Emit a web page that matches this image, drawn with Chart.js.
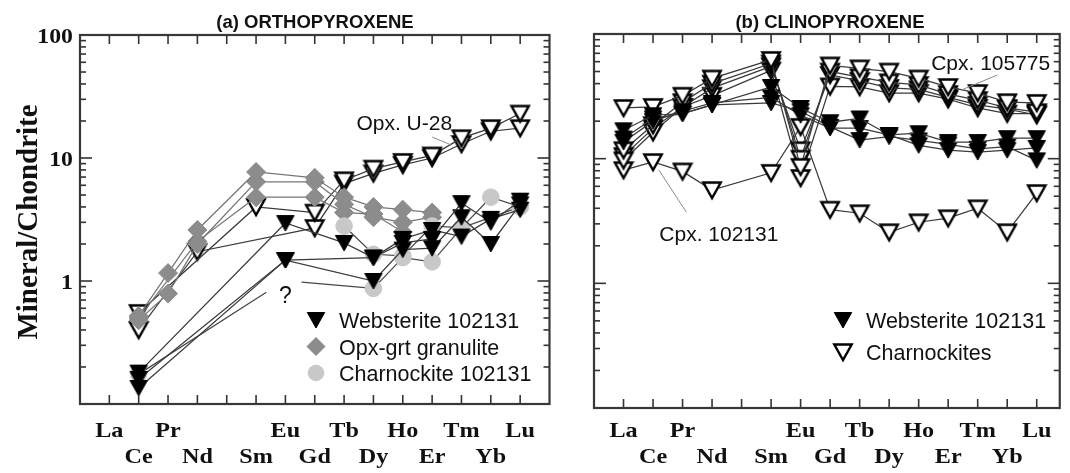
<!DOCTYPE html>
<html>
<head>
<meta charset="utf-8">
<script src="https://cdn.jsdelivr.net/npm/chart.js@4.4.1/dist/chart.umd.min.js"></script>
<style>
  html, body { margin: 0; padding: 0; background: #fff; }
  #wrap { position: relative; width: 1070px; height: 473px; }
  #cA { position: absolute; left: 0; top: 0; }
  #cB { position: absolute; left: 560px; top: 0; }
</style>
</head>
<body>
<div id="wrap">
  <canvas id="cA" width="560" height="473"></canvas>
  <canvas id="cB" width="510" height="473"></canvas>
</div>
<script>
// REE order (Pm has a tick but no label)
const elements = ['La','Ce','Pr','Nd','Pm','Sm','Eu','Gd','Tb','Dy','Ho','Er','Tm','Yb','Lu'];
const labelsTop = ['La','','Pr','','','','Eu','','Tb','','Ho','','Tm','','Lu'];
const labelsBottom = ['','Ce','','Nd','','Sm','','Gd','','Dy','','Er','','Yb',''];
const yTickValues = [100, 10, 1];
const yTickLabels = ['100', '10', '1'];

// (a) orthopyroxene            La    Ce    Pr    Nd    Pm    Sm    Eu    Gd    Tb    Dy    Ho    Er    Tm    Yb    Lu
const opxWeb1  = [null, 0.18, null, null, null, null, 2.96, null, 2.04, 1.55, 2.04, 2.2,  4.3,  3.0,  4.5];
const opxWeb2  = [null, 0.135,null, null, null, null, 1.48, null, null, 1.0,  1.8,  1.85, 3.3,  2.0,  4.2];
const opxWeb3  = [null, 0.16, null, null, null, null, 1.48, null, null, 1.55, 2.2,  2.6,  2.3,  3.2,  3.8];
const opxGrt1  = [null, 0.52, 1.16, 2.6,  null, 7.7,  null, 6.9,  4.8,  4.0,  3.8,  3.6,  null, null, null];
const opxGrt2  = [null, 0.48, 0.79, 2.0,  null, 6.4,  null, 6.4,  4.2,  3.3,  3.0,  3.3,  null, null, null];
const opxGrt3  = [null, 0.50, null, 2.1,  null, 4.8,  null, 4.8,  3.6,  3.5,  2.5,  null, null, null, null];
const opxChar1 = [null, 0.175,null, null, null, null, null, null, null, 0.87, 1.55, 1.43, 2.7,  4.8,  4.0];
const opxChar2 = [null, null, null, null, null, null, null, null, 2.8,  1.65, 1.6,  2.8,  2.7,  null, 4.0];
const opxU28a  = [null, 0.55, null, null, null, 4.0,  null, 3.6,  6.6,  8.2,  9.3,  10.5, 14.5, 17.5, 23];
const opxU28b  = [null, 0.40, null, 1.73, null, null, null, 2.7,  6.2,  7.5,  8.8,  10.0, 13,   16.5, 17.5];
// Eu of Charnockite 102131 unknown ("?"): broken connector
const opxQueryX = [1,     5.35, null, 6.55, 9];
const opxQueryY = [0.175, 0.81, null, 0.98, 0.87];

// (b) clinopyroxene            La    Ce    Pr    Nd    Pm    Sm    Eu    Gd    Tb    Dy    Ho    Er    Tm    Yb    Lu
const cpxWeb1  = [16.9, 22.3, 23,   27,   null, 37.6, 25.5, 19.6, 21,   15.5, 16,   13.6, 13.6, 14.6, 14.6];
const cpxWeb2  = [13.6, 20,   24,   28,   null, 31,   22.3, 17.6, 17.6, 15.5, 12.8, 11.7, 11.3, 11.7, 12.2];
const cpxWeb3  = [14.5, 21,   23,   27,   null, 28,   24,   18,   14.1, 15,   14,   13,   12,   12.5, 9.7];
const cpxChar1 = [25.5, 26,   32,   44,   null, 62,   8.6,  56,   53,   50,   44,   37.6, 33.6, 28.4, 28];
const cpxChar2 = [11.7, 18.6, 28.4, 40,   null, 58,   10,   50,   45,   41,   39,   33,   29.5, 25.5, 23.6];
const cpxChar3 = [9.7,  16.3, 26,   36.8, null, 55,   11.7, 47,   42,   37,   36,   31,   27,   25,   22.4];
const cpxChar4 = [10.5, 17.5, 26,   32,   null, 51,   7.0,  38,   37.6, 33.6, 33.6, 30,   25.5, 23,   23];
const cpx102131= [8.1,  9.4,  7.9,  5.6,  null, 7.7,  18,   3.9,  3.65, 2.57, 3.09, 3.33, 4.0,  2.57, 5.3];

// markers
function triMarker(fill, lw) {
  const c = document.createElement('canvas');
  c.width = 22; c.height = 22;
  const g = c.getContext('2d');
  g.beginPath(); g.moveTo(2.3, 3.5); g.lineTo(19.7, 3.5); g.lineTo(11, 19); g.closePath();
  g.fillStyle = fill; g.fill();
  g.lineWidth = lw; g.strokeStyle = '#000'; g.stroke();
  return c;
}
const triFilled = triMarker('#000', 1);
const triOpen = triMarker('#fff', 2.4);

const styleWeb  = { borderColor: '#3a3a3a', pointStyle: triFilled, pointRadius: 9 };
const styleOpen = { borderColor: '#3a3a3a', pointStyle: triOpen, pointRadius: 9 };
const styleGrt  = { borderColor: '#777', pointStyle: 'rectRot', pointRadius: 9.5, pointBackgroundColor: '#8c8c8c', pointBorderColor: '#8c8c8c', pointBorderWidth: 1 };
const styleChar = { borderColor: '#484848', pointStyle: 'circle', pointRadius: 8.3, pointBackgroundColor: '#c8c8c8', pointBorderColor: '#c8c8c8', pointBorderWidth: 1 };

function series(values, style, extra) {
  return Object.assign({
    data: values.map((v, i) => v == null ? null : { x: i, y: v }).filter(Boolean),
    borderWidth: 1.25, tension: 0, fill: false
  }, style, extra || {});
}

function line(ctx, x1, y1, x2, y2) {
  ctx.beginPath(); ctx.moveTo(x1, y1); ctx.lineTo(x2, y2); ctx.stroke();
}
function text(ctx, s, x, y, font, align, sx) {
  ctx.save();
  ctx.translate(x, y); ctx.scale(sx || 1, 1);
  ctx.font = font; ctx.textAlign = align; ctx.textBaseline = 'alphabetic';
  ctx.fillStyle = '#111';
  ctx.fillText(s, 0, 0);
  ctx.restore();
}

function drawFrame(chart, opt) {
  const { ctx, chartArea: a } = chart;
  const sx = chart.scales.x, sy = chart.scales.y;
  ctx.save();
  ctx.strokeStyle = '#333';
  ctx.lineWidth = 1.6;
  elements.forEach((el, i) => {
    const px = sx.getPixelForValue(i);
    line(ctx, px, a.top, px, a.top + 9);
    line(ctx, px, a.bottom, px, a.bottom - 9);
  });
  for (let d = -1; d <= 1; d++) {
    for (let k = 1; k <= 9; k++) {
      const v = k * Math.pow(10, d);
      if (v <= 0.1 || v >= 100) continue;
      const py = sy.getPixelForValue(v);
      const len = k === 1 ? 12 : 6;
      line(ctx, a.left, py, a.left + len, py);
      line(ctx, a.right, py, a.right - len, py);
    }
  }
  ctx.lineWidth = 2.2;
  ctx.strokeStyle = '#383838';
  ctx.strokeRect(a.left, a.top, a.right - a.left, a.bottom - a.top);
  // category labels on two rows
  const lab = 'bold 22px "Liberation Serif"';
  elements.forEach((el, i) => {
    const px = sx.getPixelForValue(i);
    if (labelsTop[i]) text(ctx, labelsTop[i], px, 437, lab, 'center', 1.1);
    if (labelsBottom[i]) text(ctx, labelsBottom[i], px, 463, lab, 'center', 1.1);
  });
  // title
  text(ctx, opt.title, opt.titleX, 28, 'bold 18.5px "Liberation Sans"', 'center', 1);
  // annotations with leader lines (data units)
  opt.notes.forEach(n => {
    ctx.strokeStyle = '#8a8a8a'; ctx.lineWidth = 1;
    if (n.from) line(ctx, sx.getPixelForValue(n.from[0]), sy.getPixelForValue(n.from[1]),
              sx.getPixelForValue(n.to[0]), sy.getPixelForValue(n.to[1]));
    text(ctx, n.label, sx.getPixelForValue(n.at[0]), sy.getPixelForValue(n.at[1]), (n.size || 21) + 'px "Liberation Sans"', 'center', 1);
  });
  // legend inside plot
  opt.legend.items.forEach((it, i) => {
    const lx = opt.legend.x, ly = opt.legend.y + i * opt.legend.dy;
    if (it.marker === 'diamond') {
      ctx.fillStyle = '#8c8c8c';
      ctx.beginPath(); ctx.moveTo(lx, ly - 9.5); ctx.lineTo(lx + 9.5, ly); ctx.lineTo(lx, ly + 9.5); ctx.lineTo(lx - 9.5, ly); ctx.closePath(); ctx.fill();
    } else if (it.marker === 'circle') {
      ctx.fillStyle = '#c8c8c8';
      ctx.beginPath(); ctx.arc(lx, ly, 8.3, 0, Math.PI * 2); ctx.fill();
    } else {
      ctx.drawImage(it.marker, lx - 11, ly - 11);
    }
    text(ctx, it.label, lx + 23, ly + 8, '21.5px "Liberation Sans"', 'left', 1);
  });
  ctx.restore();
}

function makeChart(id, datasets, xMax, padding, decor) {
  return new Chart(document.getElementById(id), {
    type: 'line',
    data: { datasets },
    options: {
      responsive: false, animation: false, devicePixelRatio: 1, events: [],
      layout: { padding },
      plugins: { legend: { display: false }, tooltip: { enabled: false }, title: { display: false } },
      scales: {
        x: { type: 'linear', min: -1, max: xMax, display: false },
        y: { type: 'logarithmic', min: 0.1, max: 100, display: false }
      }
    },
    plugins: [decor]
  });
}

// ---- panel (a)
const hideFirst = { segment: { borderColor: c => c.p0DataIndex === 0 ? 'rgba(0,0,0,0)' : '#484848' } };
const queryLine = {
  data: opxQueryX.map((x, i) => ({ x: x, y: opxQueryY[i] })),
  borderColor: '#484848', borderWidth: 1.25, pointRadius: 0, spanGaps: false, fill: false
};
makeChart('cA', [
  series(opxWeb1, styleWeb), series(opxWeb2, styleWeb), series(opxWeb3, styleWeb),
  series(opxChar1, styleChar, hideFirst), series(opxChar2, styleChar),
  series(opxGrt1, styleGrt), series(opxGrt2, styleGrt), series(opxGrt3, styleGrt),
  series(opxU28a, styleOpen), series(opxU28b, styleOpen),
  queryLine
], 15, { left: 80, right: 8, top: 35, bottom: 69 }, {
  id: 'decorA',
  afterDraw(chart) {
    const { ctx } = chart;
    drawFrame(chart, {
      title: '(a) ORTHOPYROXENE', titleX: 315,
      notes: [
        { label: 'Opx. U-28', at: [10.05, 16.8], from: [11.0, 14.8], to: [11.64, 12.8] },
        { label: '?', at: [6.0, 0.66], size: 23 }
      ],
      legend: { x: 316, y: 320, dy: 26.5, items: [
        { marker: triFilled, label: 'Websterite 102131' },
        { marker: 'diamond', label: 'Opx-grt granulite' },
        { marker: 'circle', label: 'Charnockite 102131' }
      ] }
    });
    const sy = chart.scales.y;
    yTickValues.forEach((v, i) => text(ctx, yTickLabels[i], 73, sy.getPixelForValue(v) + 8, 'bold 22px "Liberation Serif"', 'right', 1.08));
    ctx.save();
    ctx.translate(37, 222); ctx.rotate(-Math.PI / 2);
    ctx.font = 'bold 29px "Liberation Serif"'; ctx.textAlign = 'center'; ctx.fillStyle = '#111';
    ctx.fillText('Mineral/Chondrite', 0, 0);
    ctx.restore();
  }
});

// ---- panel (b)
makeChart('cB', [
  series(cpxWeb1, styleWeb), series(cpxWeb2, styleWeb), series(cpxWeb3, styleWeb),
  series(cpxChar1, styleOpen), series(cpxChar2, styleOpen), series(cpxChar3, styleOpen), series(cpxChar4, styleOpen),
  series(cpx102131, styleOpen)
], 14.78, { left: 34, right: 2, top: 34, bottom: 65 }, {
  id: 'decorB',
  afterDraw(chart) {
    drawFrame(chart, {
      title: '(b) CLINOPYROXENE', titleX: 270,
      notes: [
        { label: 'Cpx. 105775', at: [12.44, 51], from: [12.67, 46.9], to: [11.44, 35.5] },
        { label: 'Cpx. 102131', at: [3.23, 2.2], from: [2.13, 3.72], to: [1.2, 8.09] }
      ],
      legend: { x: 283, y: 320, dy: 32, items: [
        { marker: triFilled, label: 'Websterite 102131' },
        { marker: triOpen, label: 'Charnockites' }
      ] }
    });
  }
});
</script>
</body>
</html>
